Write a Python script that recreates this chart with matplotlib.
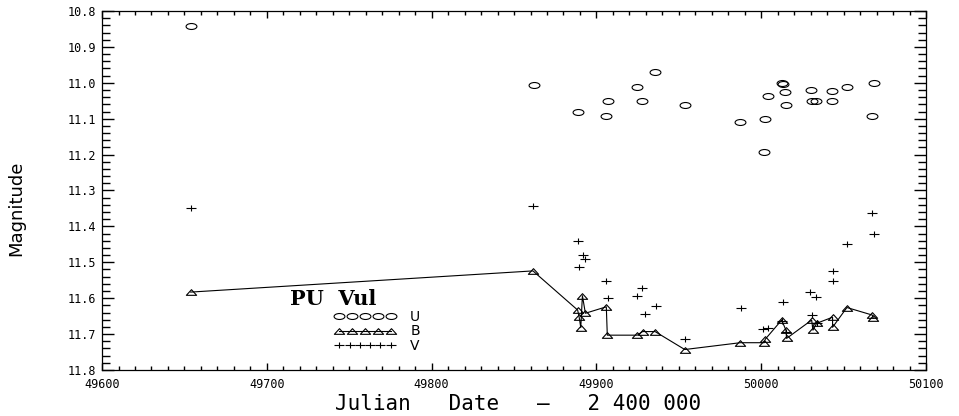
import numpy as np
import matplotlib
matplotlib.use("Agg")
import matplotlib.pyplot as plt
from matplotlib.path import Path
from matplotlib.ticker import MultipleLocator, FormatStrFormatter
from matplotlib.legend_handler import HandlerLine2D

# U band (circles)
u_jd = [49653.8, 49862.0, 49888.6, 49905.8, 49906.8, 49924.6, 49927.9, 49935.7,
        49953.6, 49987.3, 50001.5, 50002.3, 50004.3, 50012.4, 50013.4, 50014.4,
        50015.2, 50030.4, 50030.8, 50033.3, 50043.2, 50043.2, 50052.3, 50067.4,
        50068.4]
u_mag = [10.842, 11.006, 11.081, 11.092, 11.051, 11.011, 11.051, 10.971,
         11.061, 11.109, 11.192, 11.101, 11.036, 11.001, 11.003, 11.027,
         11.061, 11.021, 11.050, 11.050, 11.024, 11.052, 11.012, 11.092,
         11.001]

# B band (triangles, joined)
b_jd = [49653.8, 49861.5, 49888.6, 49889.5, 49890.5, 49891.5, 49893.3, 49906.0,
        49906.6, 49924.8, 49928.0, 49935.6, 49953.6, 49987.3, 50001.8, 50002.5,
        50012.4, 50015.0, 50015.4, 50030.6, 50031.4, 50033.6, 50043.3, 50043.3,
        50052.0, 50067.4, 50068.0]
b_mag = [11.583, 11.524, 11.633, 11.652, 11.682, 11.593, 11.642, 11.624,
         11.703, 11.703, 11.693, 11.693, 11.743, 11.724, 11.724, 11.714,
         11.661, 11.689, 11.712, 11.661, 11.689, 11.670, 11.653, 11.681,
         11.626, 11.647, 11.656]

# V band (crosses)
v_jd = [49653.8, 49861.5, 49888.6, 49889.4, 49891.9, 49893.3, 49905.7, 49906.8,
        49924.6, 49927.4, 49929.7, 49935.9, 49953.6, 49987.6, 50001.0, 50004.0,
        50012.4, 50013.4, 50015.2, 50029.6, 50030.6, 50033.3, 50033.6, 50043.3,
        50043.3, 50052.3, 50067.4, 50068.4]
v_mag = [11.350, 11.344, 11.442, 11.513, 11.481, 11.492, 11.553, 11.600,
         11.593, 11.573, 11.644, 11.623, 11.713, 11.626, 11.687, 11.684,
         11.663, 11.610, 11.693, 11.582, 11.647, 11.598, 11.668, 11.523,
         11.552, 11.449, 11.364, 11.422]

# IDL-style ticks: inward on all four sides
plt.rcParams['xtick.direction'] = 'in'
plt.rcParams['ytick.direction'] = 'in'
plt.rcParams['xtick.top'] = True
plt.rcParams['ytick.right'] = True
plt.rcParams['xtick.major.size'] = 5
plt.rcParams['xtick.minor.size'] = 3
plt.rcParams['ytick.major.size'] = 8.5
plt.rcParams['ytick.minor.size'] = 5.5
plt.rcParams['xtick.major.width'] = 1.0
plt.rcParams['xtick.minor.width'] = 1.0
plt.rcParams['ytick.major.width'] = 1.0
plt.rcParams['ytick.minor.width'] = 1.0

# flattened IDL-like symbols
circ = Path.unit_circle()
ellipse = Path(circ.vertices * np.array([1.0, 0.55]), circ.codes)
tri = Path([(-1, -0.55), (1, -0.55), (0, 0.55), (-1, -0.55)],
           [Path.MOVETO, Path.LINETO, Path.LINETO, Path.CLOSEPOLY])
cross = Path([(-1, 0), (1, 0), (0, -0.55), (0, 0.55)],
             [Path.MOVETO, Path.LINETO, Path.MOVETO, Path.LINETO])

fig = plt.figure(figsize=(9.59, 4.16), dpi=100)
ax = fig.add_axes([0.1064, 0.1106, 0.8592, 0.863])

mono = ['DejaVu Sans Mono']
lu, = ax.plot(u_jd, u_mag, linestyle='none', marker=ellipse, markersize=7.8,
              markerfacecolor='none', markeredgecolor='black', markeredgewidth=0.8, label='U')
lb, = ax.plot(b_jd, b_mag, color='black', linewidth=0.8, marker=tri, markersize=7.4,
              markerfacecolor='none', markeredgecolor='black', markeredgewidth=0.8, label='B')
lv, = ax.plot(v_jd, v_mag, linestyle='none', marker=cross, markersize=7.6,
              markerfacecolor='none', markeredgecolor='black', markeredgewidth=0.8, label='V')

ax.set_xlim(49600, 50100)
ax.set_ylim(11.8, 10.8)
ax.xaxis.set_major_locator(MultipleLocator(100))
ax.xaxis.set_minor_locator(MultipleLocator(10))
ax.yaxis.set_major_locator(MultipleLocator(0.1))
ax.yaxis.set_minor_locator(MultipleLocator(0.02))
ax.yaxis.set_major_formatter(FormatStrFormatter('%.1f'))
ax.tick_params(axis='x', which='major', pad=6)
ax.tick_params(axis='y', which='major', pad=4)
for lab in ax.get_xticklabels() + ax.get_yticklabels():
    lab.set_family(mono)
    lab.set_fontsize(8.5)
for sp in ax.spines.values():
    sp.set_linewidth(0.9)

ax.set_ylabel('Magnitude', fontsize=13, family=['Liberation Sans Narrow', 'DejaVu Sans'])
ax.yaxis.set_label_coords(-0.093, 0.45)
ax.set_xlabel('Julian   Date   \u2014   2 400 000', fontsize=15, family=mono)
ax.xaxis.set_label_coords(0.505, -0.068)

ax.text(0.228, 0.181, 'PU  Vul', transform=ax.transAxes, fontsize=15,
        fontweight='bold', family=['DejaVu Serif'])
leg = ax.legend(handles=[lu, lb, lv], loc='upper left', bbox_to_anchor=(0.283, 0.168),
                frameon=False, fontsize=10, handlelength=4.3, handletextpad=1.1,
                labelspacing=0.05, borderpad=0, borderaxespad=0,
                handler_map={lu: HandlerLine2D(numpoints=5),
                             lb: HandlerLine2D(numpoints=5),
                             lv: HandlerLine2D(numpoints=6)})

fig.savefig('out.png', dpi=100)
